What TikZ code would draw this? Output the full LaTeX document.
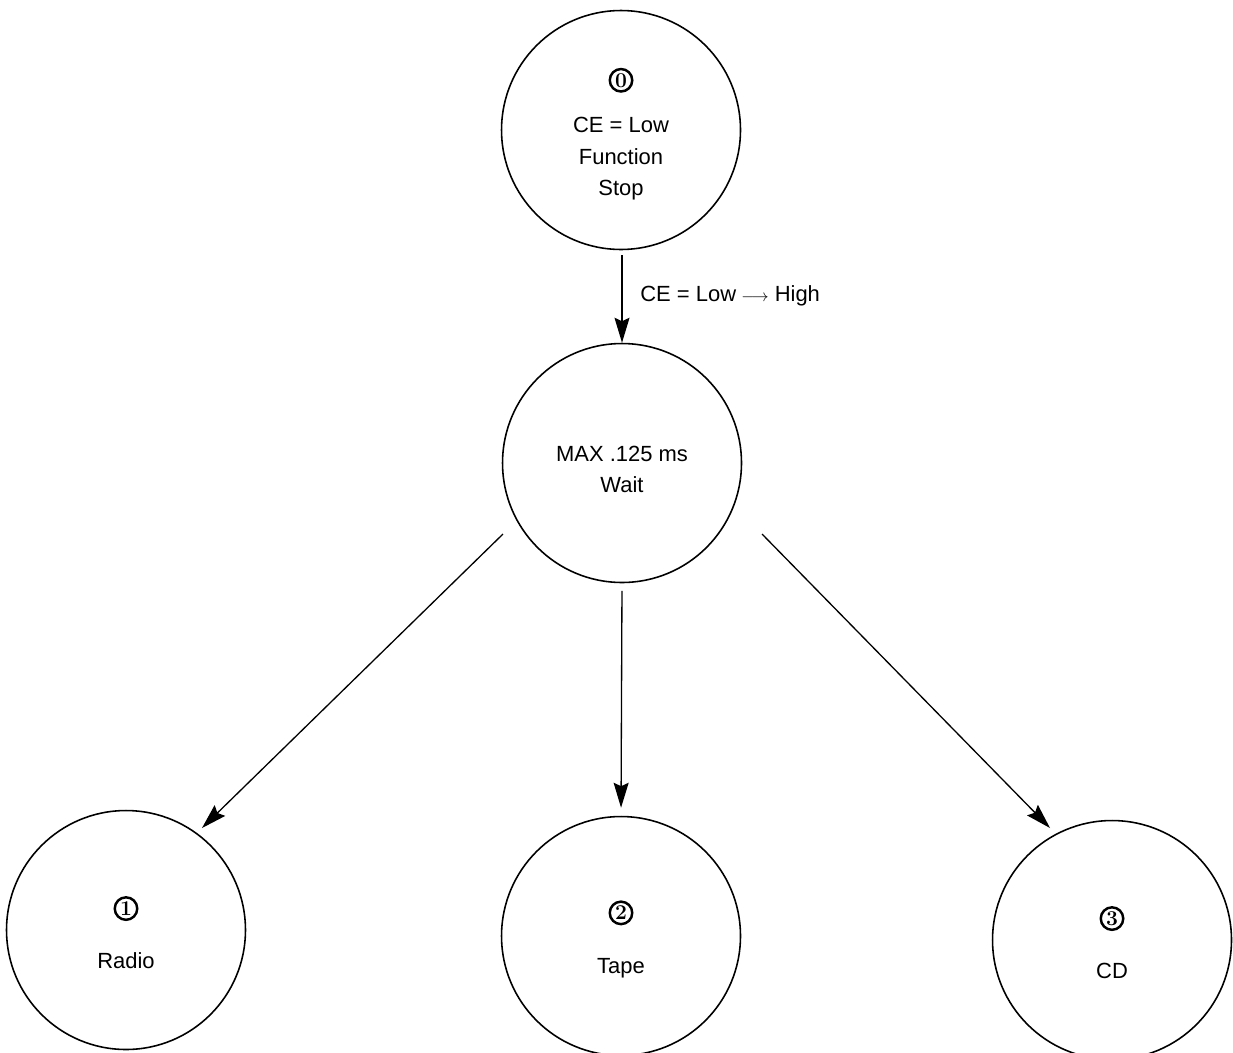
\documentclass[tikz,border=0pt]{standalone}
\usepackage{fontspec}
\setmainfont{Liberation Sans}
\newfontfamily\numfont{Latin Modern Roman}
\usetikzlibrary{arrows.meta,calc}
\newcommand{\cnum}[1]{\tikz[baseline=-0.65ex]\node[circle,draw,line width=1.4pt,inner sep=0pt,minimum size=0.45cm,font=\numfont\bfseries\fontsize{12}{12}\selectfont]{#1};}
\newcommand{\up}[2]{\raisebox{0pt}[\dimexpr\height+#1\relax]{#2}}
\tikzset{
  st/.style={circle,draw,line width=0.9pt,minimum size=4.78cm,inner sep=0pt,align=center,font=\fontsize{12.5}{18}\selectfont},
  arr/.style={line width=0.75pt,-{Stealth[length=0.5cm,width=0.3cm,inset=0.07cm]}},
  lbl/.style={font=\fontsize{12.5}{18}\selectfont,inner sep=0pt}
}
\begin{document}
\begin{tikzpicture}[x=0.02cm,y=-0.02cm]
\clip (0,0) rectangle (1233,1052);
\fill[white] (0,0) rectangle (1233,1052);
\node[st] (top) at (621,130) {\up{0.16cm}{\cnum{0}}\\[0.26cm]CE = Low\\Function\\Stop};
\node[st] (mid) at (622,463) {\up{0.26cm}{MAX .125 ms}\\Wait};
\node[st] (radio) at (126,930) {\up{0.1cm}{\cnum{1}}\\[0.42cm]Radio};
\node[st] (tape) at (621,936) {\up{0.12cm}{\cnum{2}}\\[0.42cm]Tape};
\node[st] (cd) at (1112,940) {\up{0.1cm}{\cnum{3}}\\[0.42cm]CD};
\draw[arr,shorten <=0.1cm] (top.south -| mid.north) -- (mid.north);
\node[lbl,anchor=west] (cel) at (640,296) {CE = Low\hspace{3pt}\scalebox{0.8}{$\longrightarrow$}\hspace{3.5pt}High};
\draw[arr] ($(mid.center)+(-119,71)$) -- ($(radio.center)+(76,-102)$);
\draw[arr,shorten <=0.15cm,shorten >=0.16cm] (mid.south) -- (tape.north);
\draw[arr] ($(mid.center)+(140,71)$) -- ($(cd.center)+(-62,-112)$);
\end{tikzpicture}
\end{document}
